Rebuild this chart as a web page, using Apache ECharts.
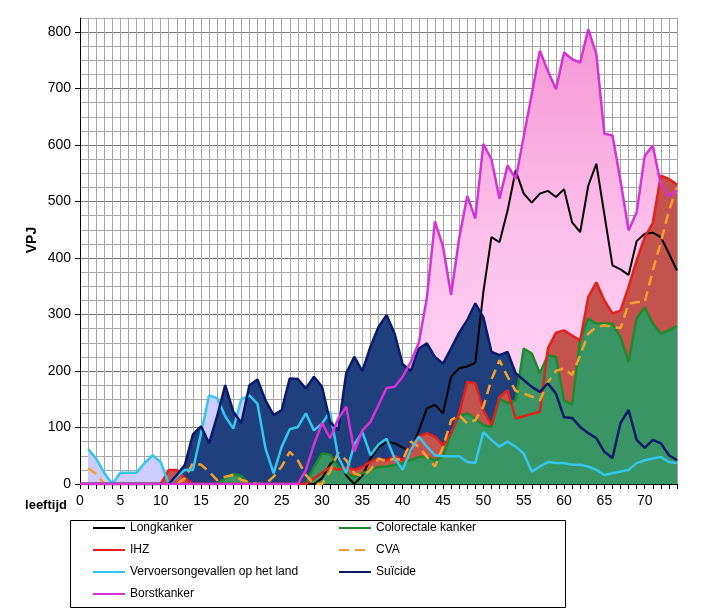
<!DOCTYPE html>
<html>
<head>
<meta charset="utf-8">
<script src="https://cdn.jsdelivr.net/npm/echarts@6/dist/echarts.min.js"></script>
<style>
html,body{margin:0;padding:0;background:#fff;}
#c{width:711px;height:613px;}
</style>
</head>
<body>
<div id="c"></div>
<script>
const ages = [0,1,2,3,4,5,6,7,8,9,10,11,12,13,14,15,16,17,18,19,20,21,22,23,24,25,26,27,28,29,30,31,32,33,34,35,36,37,38,39,40,41,42,43,44,45,46,47,48,49,50,51,52,53,54,55,56,57,58,59,60,61,62,63,64,65,66,67,68,69,70,71,72,73,74];

const longkanker = [0,0,0,0,0,0,0,0,0,0, 0,0,0,0,0,0,0,0,0,0, 0,0,0,0,0,0,0,0,0,0,
  10,35,48,15,0,15,45,65,75,72, 65,58,95,134,140,125,190,205,208,215,
  340,437,428,484,555,514,498,514,519,508, 522,463,446,528,567,477,387,380,370,430, 443,445,437,408,378];

const colorectaal = [0,0,0,0,0,0,0,0,0,0, 0,0,0,0,0,0,0,0,10,18, 14,0,0,0,0,0,0,0,0,30,
  54,52,31,20,12,19,25,30,31,34, 37,42,48,48,42,48,90,120,125,116,
  104,101,151,143,148,240,231,196,228,225, 148,140,255,293,284,284,284,260,216,293, 313,284,266,272,280];

const ihz = [0,0,0,0,0,0,0,0,0,0, 0,25,25,10,0,0,0,0,0,0, 0,0,0,0,0,0,0,0,0,10,
  20,30,25,30,25,30,40,45,42,50, 42,66,84,90,84,69,90,125,181,178,
  131,104,154,166,116,120,124,128,240,268, 272,263,254,331,357,325,302,307,349,396, 437,462,546,540,530];

const cva = [null,28,18,0,0,0,0,0,0,0, 0,0,0,10,37,34,22,7,13,16, 7,3,0,0,13,31,57,42,16,0,
  0,22,55,42,19,14,25,45,40,45, 42,75,66,48,31,66,113,122,107,113,
  137,185,219,190,165,160,155,148,180,200, 205,193,228,266,278,281,278,276,319,322, 322,378,428,484,525];

const vervoer = [null,62,45,20,0,20,20,20,37,51, 39,0,13,25,25,90,157,152,120,98, 150,157,142,62,19,66,97,101,125,95,
  107,128,48,19,70,92,51,70,80,45, 25,60,84,66,51,49,49,49,39,37,
  92,78,66,75,66,54,22,31,39,37, 37,34,34,31,25,16,19,22,25,37, 42,45,48,39,37];

const suicide = [0,0,0,0,0,0,0,0,0,0, 0,0,16,34,88,102,72,120,175,128, 108,175,185,148,122,131,187,186,169,190,
  172,110,95,196,225,200,243,278,299,266, 212,200,240,249,225,213,240,268,290,320,
  295,234,228,234,196,184,172,163,178,160, 118,117,101,90,81,57,46,108,131,78, 64,78,72,51,42];

const borst = [0,0,0,0,0,0,0,0,0,0, 0,0,0,0,0,0,0,0,0,0, 0,0,0,0,0,0,0,0,25,70,
  108,81,115,137,57,95,110,140,170,172, 190,216,250,330,465,420,335,435,510,470,
  602,575,505,564,540,615,690,767,731,699, 764,752,746,805,761,620,617,537,449,481, 581,599,530,510,520];

const yTicks = [0,100,200,300,400,500,600,700,800];

const names = {
  lk: 'Longkanker', cr: 'Colorectale kanker', ihz: 'IHZ', cva: 'CVA',
  vv: 'Vervoersongevallen op het land', su: 'Suïcide', bk: 'Borstkanker'
};

function areaSeries(id, data, color) {
  return {
    type: 'line', name: id, data: data, symbol: 'none', z: 2,
    lineStyle: { width: 0 }, areaStyle: { color: color, opacity: 1 },
    silent: true
  };
}
function lineSeries(name, data, color, width, type) {
  return {
    type: 'line', name: name, data: data, symbol: 'none', z: 3,
    lineStyle: { color: color, width: width, type: type || 'solid' },
    itemStyle: { color: color }
  };
}

const pinkGrad = {
  type: 'linear', x: 0, y: 0, x2: 0, y2: 1,
  colorStops: [
    { offset: 0, color: '#f596d4' },
    { offset: 0.45, color: '#fcc0ea' },
    { offset: 1, color: '#ffdaf9' }
  ]
};

const seriesList = [
  areaSeries('a_bk', borst, pinkGrad),
  areaSeries('a_vv', vervoer, '#ccccff'),
  areaSeries('a_su', suicide, '#1f3f7d'),
  areaSeries('a_ihz', ihz, '#c4534d'),
  areaSeries('a_cr', colorectaal, '#3a9565'),
  lineSeries(names.lk, longkanker, '#000000', 2),
  lineSeries(names.cr, colorectaal, '#1f8a2c', 2.5),
  lineSeries(names.ihz, ihz, '#e3201b', 2.5),
  lineSeries(names.cva, cva, '#f5a02c', 2.5, [10, 6]),
  lineSeries(names.vv, vervoer, '#33c6ee', 2.5),
  lineSeries(names.su, suicide, '#0b1a6b', 2.5),
  lineSeries(names.bk, borst, '#d633d6', 2.5)
];

const font = 'Liberation Sans, Arial, sans-serif';

const legendCommon = {
  orient: 'vertical', top: 522, padding: 0, itemGap: 10,
  itemWidth: 32, itemHeight: 14,
  itemStyle: { opacity: 0 },
  lineStyle: { width: 2 },
  textStyle: { fontSize: 12, color: '#000', fontFamily: font }
};

const chart = echarts.init(document.getElementById('c'), null, { renderer: 'canvas' });
chart.setOption({
  animation: false,
  backgroundColor: '#ffffff',
  textStyle: { fontFamily: font },
  grid: { left: 80, right: 34, top: 18, bottom: 129, containLabel: false },
  xAxis: {
    type: 'category', data: ages, boundaryGap: false,
    axisLine: { show: true, lineStyle: { color: '#000', width: 1 } },
    axisTick: { show: true, interval: 0, length: 5, inside: false, lineStyle: { color: '#000' } },
    axisLabel: { interval: function (i) { return i % 5 === 0; }, fontSize: 14, color: '#000', margin: 10, fontFamily: font },
    splitLine: { show: true, interval: 0, lineStyle: { color: '#a6a6a6', width: 1 } }
  },
  yAxis: [
    {
      type: 'value', min: 0, max: 825, interval: 25,
      axisLine: { show: true, lineStyle: { color: '#000', width: 1 } },
      axisTick: { show: false }, axisLabel: { show: false },
      splitLine: { show: true, lineStyle: { color: ['#7a7a7a', '#a8a8a8', '#a8a8a8', '#a8a8a8'], width: 1 } }
    },
    {
      type: 'value', min: 0, max: 825, interval: 100, position: 'left',
      axisLine: { show: false },
      axisTick: { show: true, length: 5, lineStyle: { color: '#000' } },
      splitLine: { show: false },
      axisLabel: {
        showMaxLabel: false, fontSize: 14, color: '#000', margin: 9, fontFamily: font,
        formatter: function (v) { return yTicks.indexOf(v) >= 0 ? String(v) : ''; }
      }
    }
  ],
  legend: [
    Object.assign({ left: 92, data: [names.lk, names.ihz, names.vv, names.bk] }, legendCommon),
    Object.assign({ left: 338, data: [names.cr, names.cva, names.su] }, legendCommon)
  ],
  graphic: [
    { type: 'rect', left: 68, top: 518, z: 0, shape: { width: 495, height: 87 }, style: { fill: 'none', stroke: '#000', lineWidth: 1 } },
    { type: 'text', x: 32, y: 240, rotation: Math.PI / 2, style: { text: 'VPJ', font: 'bold 14px ' + font, fill: '#000', align: 'center', verticalAlign: 'middle' } },
    { type: 'text', x: 46, y: 505, style: { text: 'leeftijd', font: 'bold 13px ' + font, fill: '#000', align: 'center', verticalAlign: 'middle' } }
  ],
  series: seriesList
});
</script>
</body>
</html>
